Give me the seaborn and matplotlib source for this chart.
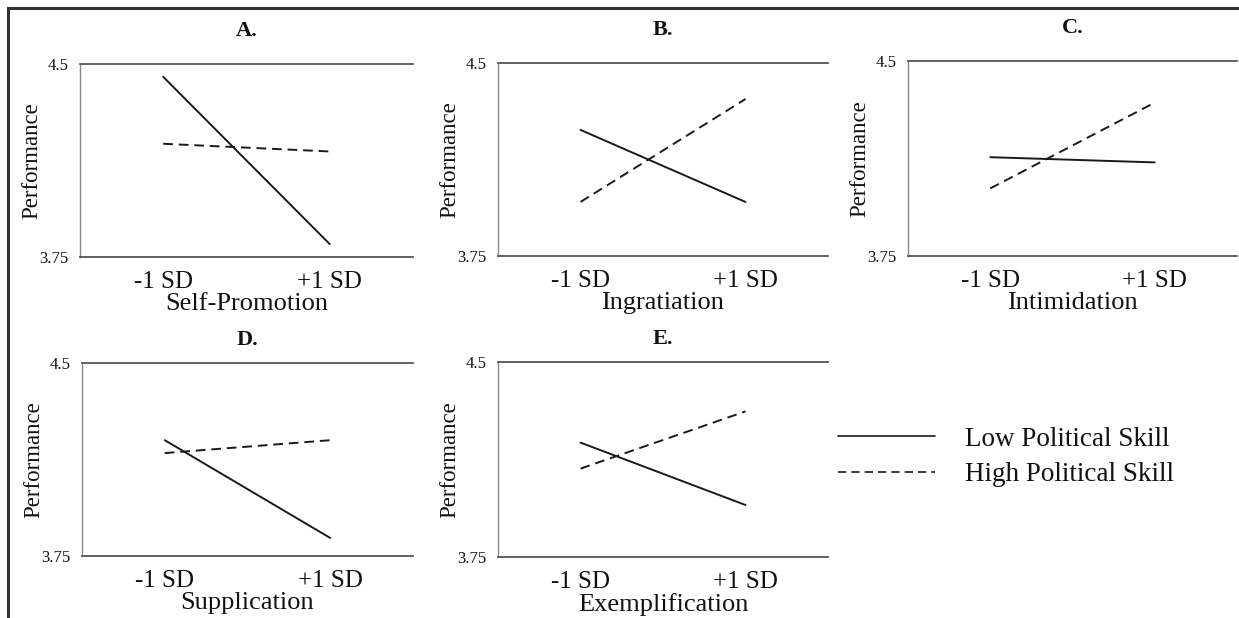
import numpy as np
import pandas as pd
import matplotlib.pyplot as plt
import seaborn as sns
from matplotlib.patches import Rectangle

# values (Performance at -1 SD / +1 SD)
panels = ["A.", "B.", "C.", "D.", "E."]
tactics = ["Self-Promotion", "Ingratiation", "Intimidation", "Supplication", "Exemplification"]
sd_levels = [-1, 1]
sd_labels = ["-1 SD", "+1 SD"]
low_skill = [[4.45, 3.80], [4.24, 3.96], [4.13, 4.11], [4.20, 3.82], [4.19, 3.95]]
high_skill = [[4.19, 4.16], [3.96, 4.36], [4.01, 4.34], [4.15, 4.20], [4.09, 4.31]]
skill_names = ["Low Political Skill", "High Political Skill"]
y_lo, y_hi = 3.75, 4.5

sns.set_style("white")
plt.rcParams['font.family'] = ['Liberation Serif', 'DejaVu Serif']
for k in ["text.color", "axes.labelcolor", "xtick.color", "ytick.color"]:
    plt.rcParams[k] = "#111111"

W, H = 1239, 618
fig = plt.figure(figsize=(W / 100, H / 100), dpi=100)

# axes boxes in pixels: left, top, right, bottom
boxes = [(80, 64, 413, 257), (498, 63, 828, 256), (908, 61, 1237, 256),
         (82, 363, 413, 556), (498, 362, 828, 557)]

rows = []
for i, t in enumerate(tactics):
    for j, x in enumerate(sd_levels):
        rows.append({"panel": i, "x": x, "Performance": low_skill[i][j], "skill": skill_names[0]})
        rows.append({"panel": i, "x": x, "Performance": high_skill[i][j], "skill": skill_names[1]})
df = pd.DataFrame(rows)

handles, labels = None, None
for i, (l, t, r, b) in enumerate(boxes):
    ax = fig.add_axes([l / W, 1 - b / H, (r - l) / W, (b - t) / H])
    sub = df[df["panel"] == i]
    sns.lineplot(data=sub, x="x", y="Performance", hue="skill", style="skill",
                 palette={skill_names[0]: "#1a1a1a", skill_names[1]: "#1a1a1a"},
                 dashes={skill_names[0]: "", skill_names[1]: (5, 3)},
                 linewidth=1.4, legend=(i == 0), ax=ax)
    if i == 0:
        handles, labels = ax.get_legend_handles_labels()
        ax.get_legend().remove()
    ax.set_xlim(-2, 2)
    ax.set_ylim(y_lo, y_hi)
    ax.set_xticks(sd_levels)
    ax.set_xticklabels(sd_labels, fontsize=18)
    ax.set_yticks([y_lo, y_hi])
    ax.set_yticklabels(["3.75", "4.5"], fontsize=12)
    ax.tick_params(length=0, pad=8)
    ax.tick_params(axis="x", pad=10)
    ax.set_xlabel(tactics[i], fontsize=19, labelpad=0)
    ax.set_ylabel("Performance", fontsize=16.5, labelpad=-2)
    ax.set_title(panels[i], fontsize=16, fontweight="bold", pad=20 if i < 3 else 13)
    for s in ["top", "bottom"]:
        ax.spines[s].set_color("#555555")
        ax.spines[s].set_linewidth(1.3)
    ax.spines["left"].set_color("#888888")
    ax.spines["left"].set_linewidth(1.0)
    ax.spines["right"].set_visible(False)

leg = fig.legend(handles, labels, loc="center left",
                 bbox_to_anchor=(838 / W, 1 - 457 / H), frameon=False,
                 fontsize=19.5, handlelength=3.6, handletextpad=1.1,
                 labelspacing=0.4, borderpad=0, borderaxespad=0)
for h in leg.get_lines():
    h.set_linewidth(1.2)

# outer frame (only top and left edges fall inside the image)
fig.patches.append(Rectangle((8 / W, -0.1), 1.2, 1 - 8 / H + 0.1,
                             transform=fig.transFigure, fill=False,
                             edgecolor="#333333", linewidth=2.2))

fig.savefig("out.png", dpi=100)
